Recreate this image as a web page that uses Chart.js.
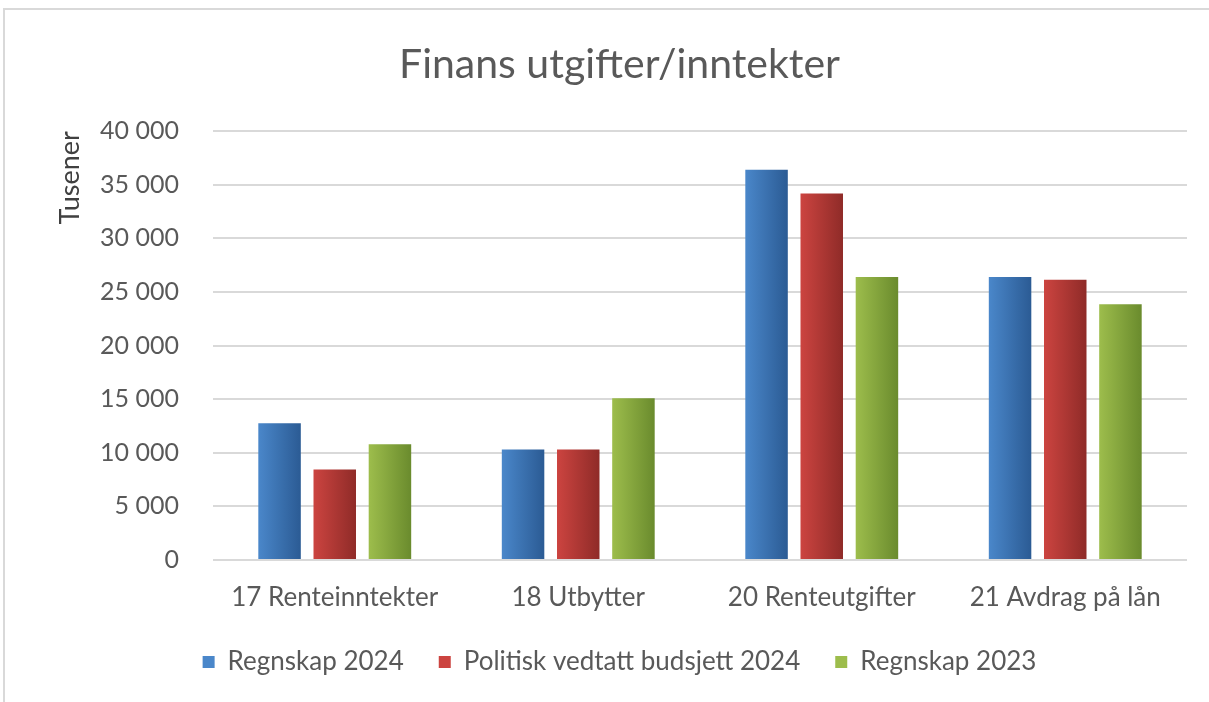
<!DOCTYPE html>
<html>
<head>
<meta charset="utf-8">
<script src="https://cdn.jsdelivr.net/npm/chart.js@4.4.1/dist/chart.umd.min.js"></script>
<style>
	html, body { margin: 0; padding: 0; background: #fff; }
	#wrap { position: absolute; left: 0; top: 0; width: 1209px; height: 702px; }
	#frame { position: absolute; left: 3px; top: 8px; width: 1220px; height: 700px; border-left: 2px solid #d9d9d9; border-top: 2px solid #d9d9d9; box-sizing: border-box; }
</style>
</head>
<body>
<div id="wrap">
	<div id="frame"></div>
	<canvas id="finansChart" width="1209" height="702"></canvas>
</div>
<script>
const categories = ["17 Renteinntekter", "18 Utbytter", "20 Renteutgifter", "21 Avdrag på lån"];
const seriesNames = ["Regnskap 2024", "Politisk vedtatt budsjett 2024", "Regnskap 2023"];
const regnskap2024 = [12750, 10300, 36400, 26400];
const budsjett2024 = [8450, 10300, 34200, 26150];
const regnskap2023 = [10800, 15100, 26400, 23850];

// light (left) / dark (right) colour for each series
const lightColors = ["#4a87ca", "#cc4440", "#9dbd4c"];
const darkColors = ["#2b5b94", "#8f2b28", "#6a8b2d"];

const FONT = "Lato";
const fmt = (v) => String(v).replace(/\B(?=(\d{3})+(?!\d))/g, " ");

// paint each bar with a horizontal gradient like the Excel original
const gradientBars = {
	id: "gradientBars",
	beforeDatasetsDraw(chart) {
		const c = chart.ctx;
		chart.data.datasets.forEach((ds, i) => {
			const meta = chart.getDatasetMeta(i);
			meta.data.forEach((el) => {
				const x0 = el.x - el.width / 2;
				const x1 = el.x + el.width / 2;
				const g = c.createLinearGradient(x0, 0, x1, 0);
				g.addColorStop(0, lightColors[i]);
				g.addColorStop(1, darkColors[i]);
				el.options.backgroundColor = g;
			});
		});
	},
};

const ctx = document.getElementById("finansChart").getContext("2d");
new Chart(ctx, {
	type: "bar",
	data: {
		labels: categories,
		datasets: [
			{ label: seriesNames[0], data: regnskap2024 },
			{ label: seriesNames[1], data: budsjett2024 },
			{ label: seriesNames[2], data: regnskap2023 },
		].map((d, i) => ({
			...d,
			backgroundColor: (c) => lightColors[i],
			borderWidth: 0,
			categoryPercentage: 0.68,
			barPercentage: 0.77,
		})),
	},
	options: {
		responsive: false,
		maintainAspectRatio: false,
		animation: false,
		layout: { padding: { left: 52, right: 22, top: 40, bottom: 17 } },
		plugins: {
			title: {
				display: true,
				text: "Finans utgifter/inntekter",
				color: "#595959",
				font: { family: FONT, size: 41, weight: "normal" },
				padding: { top: 0, bottom: 42 },
			},
			legend: {
				position: "bottom",
				labels: {
					color: "#595959",
					font: { family: FONT, size: 26 },
					boxWidth: 12,
					boxHeight: 12,
					padding: 35,
				},
			},
			tooltip: { enabled: false },
		},
		scales: {
			x: {
				grid: { display: false },
				border: { display: false },
				ticks: {
					color: "#595959",
					font: { family: FONT, size: 26 },
					padding: 14,
				},
				afterFit: (scale) => { scale.height = 54; },
			},
			y: {
				min: 0,
				max: 40000,
				title: {
					display: true,
					text: "Tusener",
					align: "end",
					color: "#404040",
					font: { family: FONT, size: 27 },
					padding: { top: 2, bottom: 0 },
				},
				grid: { color: "#d9d9d9", lineWidth: 2, drawTicks: false },
				border: { display: false },
				ticks: {
					stepSize: 5000,
					color: "#595959",
					font: { family: FONT, size: 25 },
					padding: 34,
					callback: (v) => fmt(v),
				},
				afterFit: (scale) => { scale.width = 161; },
			},
		},
	},
	plugins: [gradientBars],
});
</script>
</body>
</html>
